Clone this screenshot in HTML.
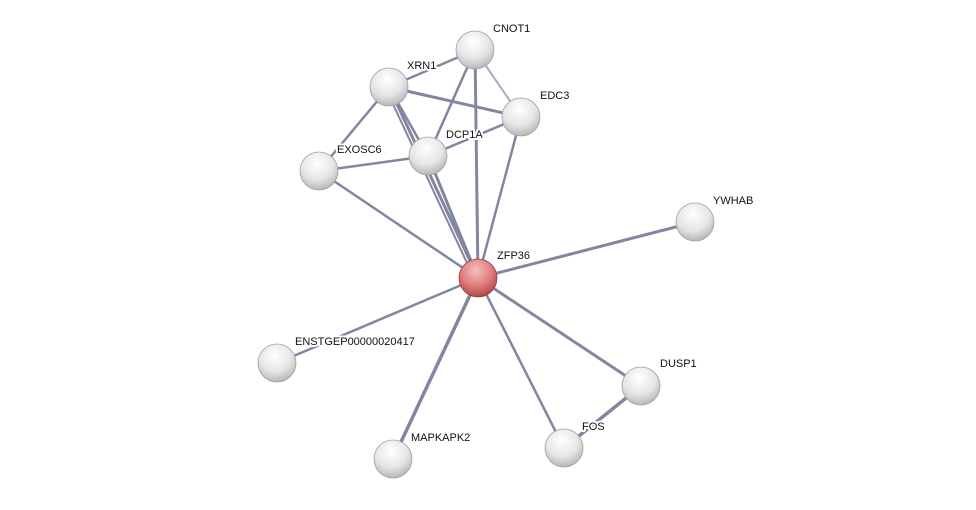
<!DOCTYPE html>
<html><head><meta charset="utf-8"><style>body{margin:0;background:#fff}</style></head><body>
<svg width="976" height="505" viewBox="0 0 976 505" xmlns="http://www.w3.org/2000/svg">
<defs>
<radialGradient id="g" cx="0.45" cy="0.3" r="0.7">
<stop offset="0" stop-color="#ffffff"/><stop offset="0.6" stop-color="#e6e6e6"/><stop offset="1" stop-color="#b8b8b8"/>
</radialGradient>
<radialGradient id="r" cx="0.45" cy="0.3" r="0.7">
<stop offset="0" stop-color="#f6c0c0"/><stop offset="0.6" stop-color="#e07a7a"/><stop offset="1" stop-color="#b04848"/>
</radialGradient>
</defs>
<g stroke="#6d7190" stroke-width="2.5" fill="none" opacity="0.85">
<line x1="478" y1="278" x2="475" y2="50" stroke-width="3"/>
<line x1="478" y1="278" x2="389" y2="87" stroke-width="3"/>
<line x1="474" y1="278" x2="385" y2="87" stroke-width="2"/>
<line x1="478" y1="278" x2="428" y2="156" stroke-width="3"/>
<line x1="478" y1="278" x2="521" y2="117"/>
<line x1="478" y1="278" x2="319" y2="171"/>
<line x1="478" y1="278" x2="695" y2="222" stroke-width="3"/>
<line x1="478" y1="278" x2="277" y2="363"/>
<line x1="478" y1="278" x2="641" y2="386" stroke-width="3"/>
<line x1="478" y1="278" x2="564" y2="448"/>
<line x1="478" y1="278" x2="393" y2="459" stroke-width="3.5"/>
<line x1="475" y1="50" x2="389" y2="87"/>
<line x1="475" y1="50" x2="521" y2="117" stroke="#9a9db5" stroke-width="2"/>
<line x1="475" y1="50" x2="428" y2="156"/>
<line x1="389" y1="87" x2="521" y2="117" stroke-width="3"/>
<line x1="389" y1="87" x2="428" y2="156"/>
<line x1="389" y1="87" x2="319" y2="171"/>
<line x1="521" y1="117" x2="428" y2="156"/>
<line x1="319" y1="171" x2="428" y2="156"/>
<line x1="641" y1="386" x2="564" y2="448" stroke-width="3.5"/>
</g>
<g stroke="#a0a0a0" stroke-width="0.8">
<circle cx="475" cy="50" r="19" fill="url(#g)"/>
<circle cx="389" cy="87" r="19" fill="url(#g)"/>
<circle cx="521" cy="117" r="19" fill="url(#g)"/>
<circle cx="428" cy="156" r="19" fill="url(#g)"/>
<circle cx="319" cy="171" r="19" fill="url(#g)"/>
<circle cx="695" cy="222" r="19" fill="url(#g)"/>
<circle cx="478" cy="278" r="19" fill="url(#r)" stroke="#904040"/>
<circle cx="277" cy="363" r="19" fill="url(#g)"/>
<circle cx="641" cy="386" r="19" fill="url(#g)"/>
<circle cx="564" cy="448" r="19" fill="url(#g)"/>
<circle cx="393" cy="459" r="19" fill="url(#g)"/>
</g>
<g font-family="Liberation Sans, sans-serif" font-size="11" fill="#111" stroke="#fff" stroke-width="4" stroke-linejoin="round" paint-order="stroke">
<text x="493" y="32">CNOT1</text>
<text x="407" y="69">XRN1</text>
<text x="540" y="99">EDC3</text>
<text x="446" y="138">DCP1A</text>
<text x="337" y="153">EXOSC6</text>
<text x="713" y="204">YWHAB</text>
<text x="497" y="259">ZFP36</text>
<text x="295" y="345">ENSTGEP00000020417</text>
<text x="660" y="367">DUSP1</text>
<text x="582" y="430">FOS</text>
<text x="411" y="441">MAPKAPK2</text>
</g>
</svg>
</body></html>
